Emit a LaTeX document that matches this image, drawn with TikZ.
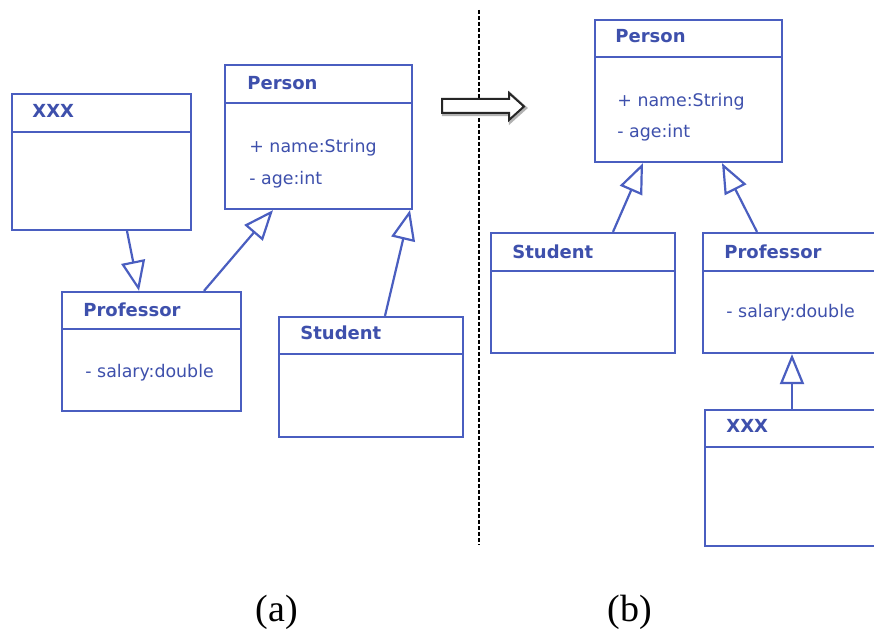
\documentclass[tikz,border=0pt]{standalone}
\usepackage{fontspec}
\setmainfont{Liberation Serif}
\newfontfamily\umlfont{DejaVu Sans}
\usetikzlibrary{arrows.meta,fit}

\definecolor{umlblue}{RGB}{74,94,192}
\definecolor{umltext}{RGB}{62,80,172}

% A UML class: name, x1, y1, x2, y2, y of the header divider
\newcommand\umlclass[6]{%
  \node[classbox, fit={(#2,#3) (#4,#5)}] (#1) {};
  \draw[umlline] (#2,#6) -- (#4,#6);
}

\begin{document}
\begin{tikzpicture}[x=0.5pt,y=-0.5pt,
  umlline/.style={draw=umlblue, line width=1.1pt},
  classbox/.style={umlline, rectangle, inner sep=0pt, fill=white},
  classname/.style={anchor=base west, inner sep=0pt, text=umltext,
    font=\umlfont\bfseries\fontsize{9}{10}\selectfont},
  attr/.style={anchor=base west, inner sep=0pt, text=umltext,
    font=\umlfont\fontsize{8.7}{10}\selectfont},
  gen/.style={umlline, -{Triangle[open, length=15pt, width=12pt]}},
  caption/.style={anchor=base, inner sep=0pt, font=\fontsize{19}{22}\selectfont},
]
\clip (0,0) rectangle (874,630);
\fill[white] (0,0) rectangle (874,630);

% ---------- (a) before ----------
\umlclass{lxxx}{12}{94}{191}{230}{132}
\node[classname] (lxxx-t) at (32,118) {XXX};

\umlclass{lprof}{62}{292}{241}{411}{329}
\node[classname] (lprof-t) at (83,317) {Professor};
\node[attr] (lprof-a) at (85,378) {- salary:double};

\umlclass{lperson}{225}{65}{412}{209}{103}
\node[classname] (lperson-t) at (247,90) {Person};
\node[attr] (lperson-a1) at (249,153) {+ name:String};
\node[attr] (lperson-a2) at (249,185) {- age:int};

\umlclass{lstud}{279}{317}{463}{437}{354}
\node[classname] (lstud-t) at (300,340) {Student};

\draw[gen] (127,0 |- lxxx.south) -- (139,0 |- lprof.north);
\draw[gen] (204,0 |- lprof.north) -- (273,0 |- lperson.south);
\draw[gen] (385,0 |- lstud.north) -- (410,0 |- lperson.south);

% ---------- separator and transition arrow ----------
\coordinate (sepTop) at (479,10);
\coordinate (sepBot) at (479,545);
\draw[line width=0.8pt, dash pattern=on 2pt off 1pt] (sepTop) -- (sepBot);

\begin{scope}[line width=1pt, line join=miter]
  \draw[gray!60, line width=1.6pt, shift={(1.5,1.5)}]
    (442,99) -- (509,99) -- (509,93) -- (524,106.5) -- (509,120) -- (509,113) -- (442,113) -- cycle;
  \filldraw[fill=white, draw=black!85]
    (442,99) -- (509,99) -- (509,93) -- (524,106.5) -- (509,120) -- (509,113) -- (442,113) -- cycle;
\end{scope}

% ---------- (b) after ----------
\umlclass{rperson}{595}{20}{782}{162}{57}
\node[classname] (rperson-t) at (615,43) {Person};
\node[attr] (rperson-a1) at (617,107) {+ name:String};
\node[attr] (rperson-a2) at (617,138) {- age:int};

\umlclass{rstud}{491}{233}{675}{353}{271}
\node[classname] (rstud-t) at (512,259) {Student};

\umlclass{rprof}{703}{233}{892}{353}{271}
\node[classname] (rprof-t) at (724,259) {Professor};
\node[attr] (rprof-a) at (726,318) {- salary:double};

\umlclass{rxxx}{705}{410}{892}{546}{447}
\node[classname] (rxxx-t) at (726,433) {XXX};

\draw[gen] (613,0 |- rstud.north) -- (643,0 |- rperson.south);
\draw[gen] (757,0 |- rprof.north) -- (722,0 |- rperson.south);
\draw[gen] (792,0 |- rxxx.north) -- (792,0 |- rprof.south);

% ---------- captions ----------
\node[caption] (capA) at (277,622) {(a)};
\node[caption] (capB) at (630,622) {(b)};
\end{tikzpicture}
\end{document}
